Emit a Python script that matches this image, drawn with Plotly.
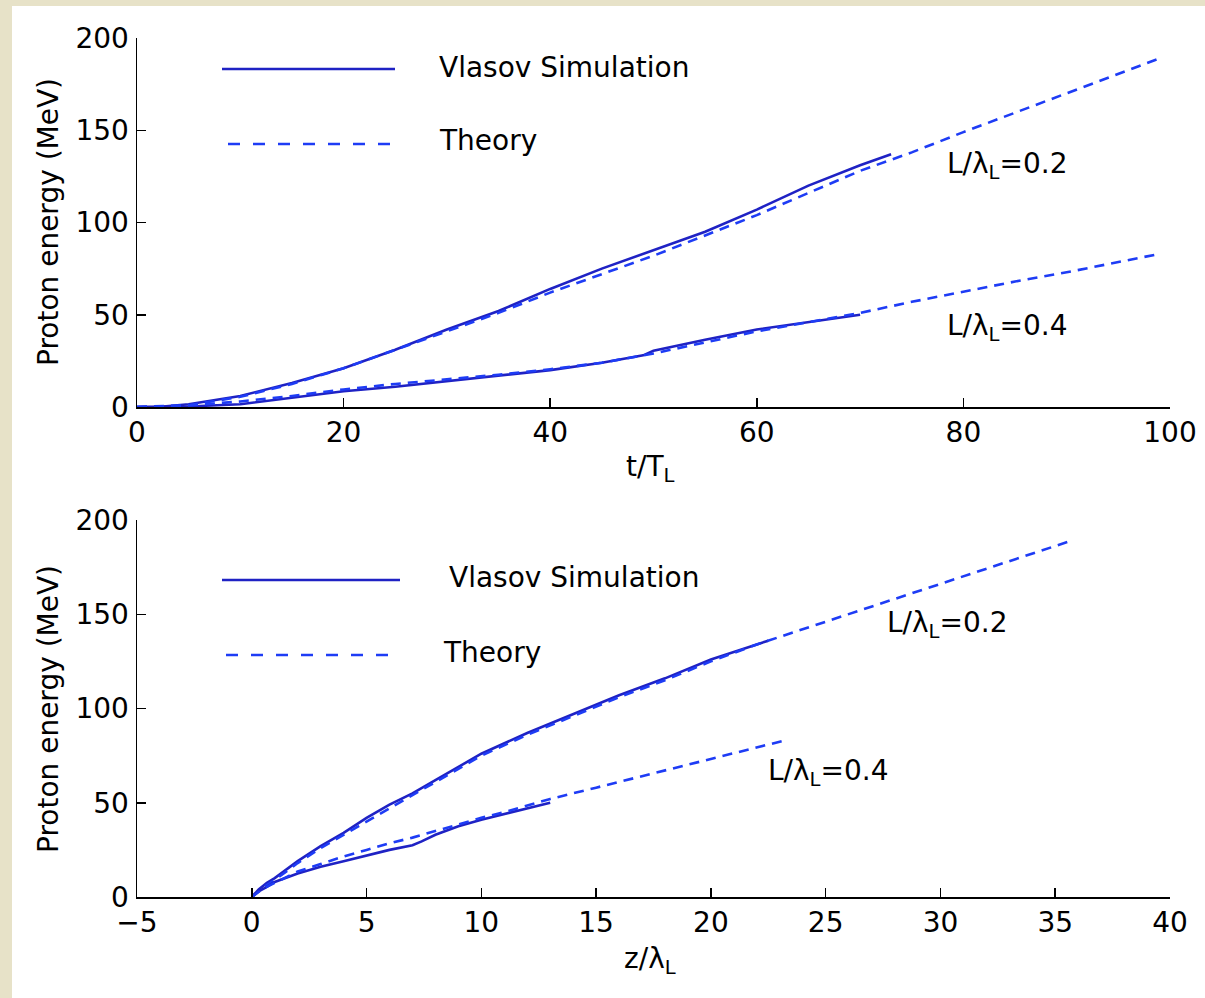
import plotly.graph_objects as go

# ---------------- data ----------------
# Top panel: energy vs t/T_L
t_sim02 = [0, 2, 5, 10, 15, 20, 25, 30, 35, 40, 45, 50, 55, 60, 65, 70, 73]
e_t_sim02 = [0, 0, 1.5, 6, 13, 21, 31, 42, 52, 64, 75, 85, 95, 107, 120, 131, 137]
t_th02 = [0, 5, 10, 15, 20, 25, 30, 35, 40, 45, 50, 55, 60, 65, 70, 75, 80, 85, 90, 95, 99]
e_t_th02 = [0, 1, 5.5, 12.5, 21, 31, 41, 51, 62, 72, 82, 93, 104, 116, 128, 138, 149, 159.5, 170, 180.5, 189]

t_sim04 = [0, 2, 5, 10, 15, 20, 25, 30, 35, 40, 45, 47, 49, 50, 55, 60, 65, 70]
e_t_sim04 = [0, 0, 0.3, 1.5, 5, 8.5, 11, 14, 17, 20, 24, 26, 28, 30.5, 36.5, 42, 46, 50]
t_th04 = [0, 5, 10, 15, 20, 25, 30, 35, 40, 45, 50, 55, 60, 65, 70, 75, 80, 85, 90, 95, 99]
e_t_th04 = [0, 0.8, 3, 6, 9.5, 12.5, 15, 17.5, 20.5, 24, 29, 35, 41, 46, 51, 57, 62.5, 68, 73, 78.5, 83]

# Bottom panel: energy vs z/lambda_L
z_sim02 = [0, 0.3, 0.66, 1, 2, 3, 4, 5, 6, 7, 8, 9, 10, 12, 14, 16, 18, 20, 22.5]
e_z_sim02 = [0, 4, 7.5, 10, 19, 27, 34, 42, 49, 55, 62, 69, 76, 87, 97, 107, 116, 126, 136]
z_th02 = [0, 0.5, 1, 2, 3, 4, 5, 6, 7, 8, 9, 10, 12, 14, 16, 18, 20, 22, 25, 28, 30, 33, 35.7]
e_z_th02 = [0, 5, 9, 18, 26, 33, 40, 47, 54, 61, 68, 75, 86, 96, 106, 115, 125, 134, 146, 158, 166, 178, 189]

z_sim04 = [0, 0.3, 0.6, 1, 2, 3, 4, 5, 6, 7, 7.4, 8, 9, 10, 11, 12, 13]
e_z_sim04 = [0, 3, 5, 8, 12.5, 16, 19, 22, 25, 27.5, 29.5, 33, 37.5, 41, 44, 47, 50]
z_th04 = [0, 0.5, 1, 2, 3, 4, 5, 6, 7, 8, 9, 10, 11, 12, 13, 15, 18, 20, 23.2]
e_z_th04 = [0, 4.5, 7.5, 13.5, 17.5, 21.5, 25, 28.5, 31.5, 35, 38.5, 42, 45, 48.5, 52, 58, 67, 73, 83]

top_xticks = [0, 20, 40, 60, 80, 100]
bot_xticks = [-5, 0, 5, 10, 15, 20, 25, 30, 35, 40]
yticks = [0, 50, 100, 150, 200]

legend_labels = ["Vlasov Simulation", "Theory"]
curve_labels = ["L/λ<sub>L</sub>=0.2", "L/λ<sub>L</sub>=0.4"]
y_title = "Proton energy (MeV)"
top_x_title = "t/T<sub>L</sub>"
bot_x_title = "z/λ<sub>L</sub>"

# ---------------- styling ----------------
W, H = 1205, 998
FONT = "DejaVu Sans"
FS = 28
SOLID = "#1f22c4"
DASHC = "#1e3cf5"
DASH = "10px,7px"
BG = "#e7e2c8"


def px(x):
    return x / W


def py(y):
    return (H - y) / H


fig = go.Figure()


def add_line(x, y, xa, ya, dashed):
    fig.add_trace(go.Scatter(
        x=x, y=y, mode="lines", xaxis=xa, yaxis=ya, showlegend=False,
        line=dict(color=DASHC if dashed else SOLID, width=2.6,
                  dash=DASH if dashed else "solid"),
        hoverinfo="skip"))


add_line(t_sim02, e_t_sim02, "x", "y", False)
add_line(t_th02, e_t_th02, "x", "y", True)
add_line(t_sim04, e_t_sim04, "x", "y", False)
add_line(t_th04, e_t_th04, "x", "y", True)

add_line(z_sim02, e_z_sim02, "x2", "y2", False)
add_line(z_th02, e_z_th02, "x2", "y2", True)
add_line(z_sim04, e_z_sim04, "x2", "y2", False)
add_line(z_th04, e_z_th04, "x2", "y2", True)

axis_common = dict(
    showline=True, linecolor="black", linewidth=1.5, mirror=False,
    ticks="inside", ticklen=9, tickwidth=1.5, tickcolor="black",
    showgrid=False, zeroline=False, automargin=False,
    tickfont=dict(family=FONT, size=FS, color="black"),
)

x_dom = [px(137), px(1170)]
fig.update_layout(
    width=W, height=H, autosize=False,
    margin=dict(l=0, r=0, t=0, b=0, pad=0, autoexpand=False),
    paper_bgcolor=BG, plot_bgcolor="white",
    font=dict(family=FONT, size=FS, color="black"),
    xaxis=dict(domain=x_dom, range=[0, 100], tickvals=top_xticks,
               anchor="y", ticklabelstandoff=0, **axis_common),
    yaxis=dict(domain=[py(407), py(38)], range=[0, 200], tickvals=yticks,
               anchor="x", ticklabelstandoff=1, **axis_common),
    xaxis2=dict(domain=x_dom, range=[-5, 40], tickvals=bot_xticks,
                ticktext=["\u22125"] + [str(v) for v in bot_xticks[1:]],
                anchor="y2", ticklabelstandoff=0, **axis_common),
    yaxis2=dict(domain=[py(897), py(520)], range=[0, 200], tickvals=yticks,
                anchor="x2", ticklabelstandoff=1, **axis_common),
)

# white figure panel
fig.add_shape(type="rect", xref="paper", yref="paper", x0=px(12), x1=1,
              y0=0, y1=py(6), fillcolor="white", line=dict(width=0),
              layer="below")

# legends (drawn as in the original, inside each panel)
legend_pos = [
    dict(s=(222, 395, 69), st=(437, 67), d=(228, 395, 144), dt=(437, 141)),
    dict(s=(222, 400, 580), st=(447, 577), d=(226, 400, 655), dt=(441, 652)),
]
for lp in legend_pos:
    x0, x1, yy = lp["s"]
    fig.add_shape(type="line", xref="paper", yref="paper",
                  x0=px(x0), x1=px(x1), y0=py(yy), y1=py(yy),
                  line=dict(color=SOLID, width=2.6))
    x0, x1, yy = lp["d"]
    fig.add_shape(type="line", xref="paper", yref="paper",
                  x0=px(x0), x1=px(x1), y0=py(yy), y1=py(yy),
                  line=dict(color=DASHC, width=2.6, dash="12px,13px"))
    for label, key in zip(legend_labels, ["st", "dt"]):
        tx, ty = lp[key]
        fig.add_annotation(xref="paper", yref="paper", x=px(tx), y=py(ty),
                           text=label, showarrow=False, xanchor="left",
                           yanchor="middle", font=dict(family=FONT, size=FS))

# curve labels (data coordinates)
fig.add_annotation(xref="x", yref="y", x=78.2, y=131, text=curve_labels[0],
                   showarrow=False, xanchor="left", yanchor="middle",
                   font=dict(family=FONT, size=FS))
fig.add_annotation(xref="x", yref="y", x=78.2, y=43, text=curve_labels[1],
                   showarrow=False, xanchor="left", yanchor="middle",
                   font=dict(family=FONT, size=FS))
fig.add_annotation(xref="x2", yref="y2", x=27.6, y=144.7, text=curve_labels[0],
                   showarrow=False, xanchor="left", yanchor="middle",
                   font=dict(family=FONT, size=FS))
fig.add_annotation(xref="x2", yref="y2", x=22.4, y=66.3, text=curve_labels[1],
                   showarrow=False, xanchor="left", yanchor="middle",
                   font=dict(family=FONT, size=FS))

# axis titles
fig.add_annotation(xref="paper", yref="paper", x=px(650), y=py(448),
                   text=top_x_title, showarrow=False, xanchor="center",
                   yanchor="top", font=dict(family=FONT, size=FS))
fig.add_annotation(xref="paper", yref="paper", x=px(650), y=py(940),
                   text=bot_x_title, showarrow=False, xanchor="center",
                   yanchor="top", font=dict(family=FONT, size=FS))
for cy in (222, 709):
    fig.add_annotation(xref="paper", yref="paper", x=px(48), y=py(cy),
                       text=y_title, textangle=-90, showarrow=False,
                       xanchor="center", yanchor="middle",
                       font=dict(family=FONT, size=FS))

fig.write_html("out.html",
               config={"displayModeBar": False, "staticPlot": True},
               post_script="document.body.style.margin='0';"
                           "document.body.style.padding='0';")
